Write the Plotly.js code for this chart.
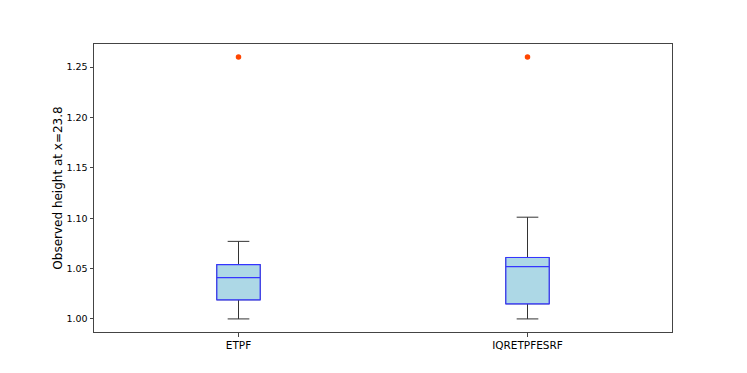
<!DOCTYPE html>
<html>
<head>
<meta charset="utf-8">
<script src="https://cdn.plot.ly/plotly-3.0.1.min.js"></script>
<style>html,body{margin:0;padding:0;background:#fff;}#chart{width:747px;height:373px;}</style>
</head>
<body>
<div id="chart"></div>
<script>
// Data
var categories = ["ETPF", "IQRETPFESRF"];
var positions = [1, 2];
var q1Values = [1.019, 1.015];
var medianValues = [1.041, 1.052];
var q3Values = [1.054, 1.061];
var lowerWhisker = [1.000, 1.000];
var upperWhisker = [1.077, 1.101];
var outlierX = [1, 2];
var outlierY = [1.26, 1.26];
var yTickVals = [1.00, 1.05, 1.10, 1.15, 1.20, 1.25];
var yTickText = ["1.00", "1.05", "1.10", "1.15", "1.20", "1.25"];

var font = "DejaVu Sans, sans-serif";

// whiskers and caps (dark); its median is hidden on the box bottom edge
var whiskerTrace = {
  type: "box",
  x: positions,
  q1: q1Values, median: q1Values, q3: q3Values,
  lowerfence: lowerWhisker, upperfence: upperWhisker,
  width: 0.15,
  whiskerwidth: 0.5,
  line: {color: "#333333", width: 1},
  fillcolor: "rgba(0,0,0,0)",
  boxpoints: false,
  hoverinfo: "skip",
  showlegend: false
};
// box body and median (blue)
var boxTrace = {
  type: "box",
  x: positions,
  q1: q1Values, median: medianValues, q3: q3Values,
  lowerfence: q1Values, upperfence: q3Values,
  width: 0.15,
  whiskerwidth: 0,
  line: {color: "#3535ff", width: 1.2},
  fillcolor: "#add8e6",
  boxpoints: false,
  showlegend: false
};
var outlierTrace = {
  type: "scatter",
  mode: "markers",
  x: outlierX,
  y: outlierY,
  marker: {color: "#ff4500", size: 5.5},
  showlegend: false
};

var layout = {
  width: 747, height: 373,
  margin: {l: 94, r: 75, t: 44, b: 41},
  paper_bgcolor: "#ffffff",
  plot_bgcolor: "#ffffff",
  boxmode: "overlay",
  showlegend: false,
  font: {family: font, color: "#000000"},
  xaxis: {
    range: [0.5, 2.5],
    tickvals: positions,
    ticktext: categories,
    showgrid: false, zeroline: false,
    showline: true, mirror: true, linecolor: "#444444", linewidth: 1,
    ticks: "outside", ticklen: 3.5, tickcolor: "#444444",
    tickfont: {size: 10.5, family: font, color: "#000"}
  },
  yaxis: {
    range: [0.987, 1.273],
    tickvals: yTickVals,
    ticktext: yTickText,
    showgrid: false, zeroline: false,
    showline: true, mirror: true, linecolor: "#444444", linewidth: 1,
    ticks: "outside", ticklen: 3.5, tickcolor: "#444444",
    tickfont: {size: 9.5, family: font, color: "#000"},
    title: {text: "Observed height at x=23.8", font: {size: 12, family: font, color: "#000"}, standoff: 1}
  }
};

Plotly.newPlot("chart", [whiskerTrace, boxTrace, outlierTrace], layout, {staticPlot: true, displayModeBar: false});
</script>
</body>
</html>
